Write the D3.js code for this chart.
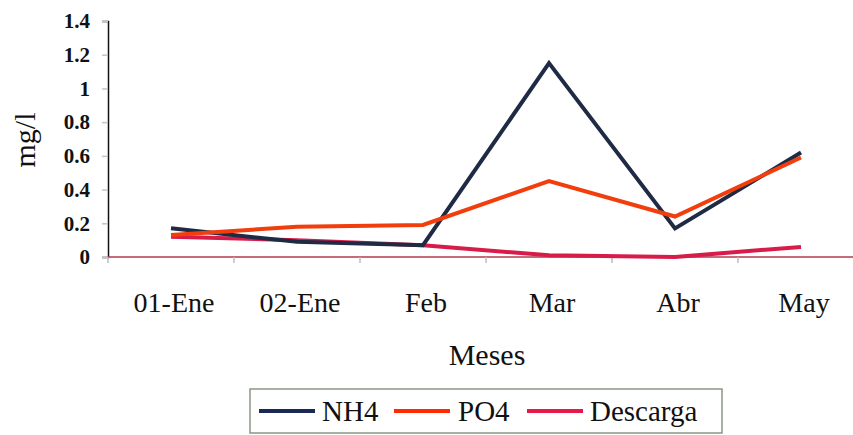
<!DOCTYPE html>
<html>
<head>
<meta charset="utf-8">
<script src="https://cdn.jsdelivr.net/npm/d3@7"></script>
<style>
  html, body { margin: 0; padding: 0; background: #fff; }
  svg { display: block; font-family: "Liberation Serif", "Times New Roman", serif; }
</style>
</head>
<body>
<svg id="chart" width="853" height="435"></svg>
<script>
// Monthly concentrations (mg/l)
const months = ["01-Ene", "02-Ene", "Feb", "Mar", "Abr", "May"];
const nh4 = [0.17, 0.09, 0.07, 1.15, 0.17, 0.62];
const po4 = [0.13, 0.18, 0.19, 0.45, 0.24, 0.59];
const descarga = [0.12, 0.10, 0.07, 0.01, 0.0, 0.06];
const yTicks = [0, 0.2, 0.4, 0.6, 0.8, 1, 1.2, 1.4];

const series = [
  { name: "NH4", values: nh4, color: "#1f2b45", legendColor: "#1a2a55" },
  { name: "PO4", values: po4, color: "#f23d0c", legendColor: "#ff2a00" },
  { name: "Descarga", values: descarga, color: "#d81c4a", legendColor: "#e8184a" }
];

const svg = d3.select("#chart");
const plot = { left: 108, top: 21, bottom: 257, right: 864 };

const x = d3.scaleBand().domain(months).range([plot.left, plot.right]).padding(0);
const y = d3.scaleLinear().domain([0, 1.4]).range([plot.bottom, plot.top]);

// Y axis
const yAxis = svg.append("g").attr("transform", `translate(${plot.left},0)`)
  .call(d3.axisLeft(y).tickValues(yTicks).tickSize(6).tickPadding(12)
    .tickFormat(d => String(+d.toFixed(1))));
yAxis.select(".domain").attr("stroke", "#111").attr("stroke-width", 1.5);
yAxis.selectAll(".tick line").attr("stroke", "#c4c4c4").attr("stroke-width", 1.5);
yAxis.selectAll(".tick text")
  .attr("font-family", "Liberation Serif, serif")
  .attr("font-size", 21).attr("font-weight", "bold").attr("fill", "#111");

// X axis with ticks at category boundaries
const xAxis = svg.append("g").attr("transform", `translate(0,${plot.bottom})`);
xAxis.append("line")
  .attr("x1", plot.left).attr("x2", plot.right).attr("y1", 0).attr("y2", 0)
  .attr("stroke", "#b23a4c").attr("stroke-width", 1.5);
xAxis.selectAll("line.bound").data(months).join("line")
  .attr("class", "bound")
  .attr("x1", d => x(d)).attr("x2", d => x(d))
  .attr("y1", 0).attr("y2", 6)
  .attr("stroke", "#bdbdbd").attr("stroke-width", 1.5);
xAxis.selectAll("text").data(months).join("text")
  .attr("x", d => x(d) + x.bandwidth() / 2 + 3)
  .attr("y", 55)
  .attr("text-anchor", "middle")
  .attr("font-size", 28).attr("fill", "#111")
  .text(d => d);

// Axis titles
svg.append("text")
  .attr("transform", "translate(35,140) rotate(-90)")
  .attr("text-anchor", "middle")
  .attr("font-size", 30).attr("fill", "#111")
  .text("mg/l");
svg.append("text")
  .attr("x", 487).attr("y", 365)
  .attr("text-anchor", "middle")
  .attr("font-size", 30).attr("fill", "#111")
  .text("Meses");

// Series lines
const line = d3.line()
  .x((d, i) => x(months[i]) + x.bandwidth() / 2)
  .y(d => y(d));
const drawOrder = [series[2], series[0], series[1]];
svg.append("g").selectAll("path").data(drawOrder).join("path")
  .attr("d", s => line(s.values))
  .attr("fill", "none")
  .attr("stroke", s => s.color)
  .attr("stroke-width", 4)
  .attr("stroke-linejoin", "miter");

// Legend
const legend = svg.append("g");
legend.append("rect")
  .attr("x", 250).attr("y", 389).attr("width", 472).attr("height", 44)
  .attr("fill", "#fff").attr("stroke", "#8c9682").attr("stroke-width", 1.5);
const legendPos = [
  { lx: 259, tx: 322 },
  { lx: 394, tx: 458 },
  { lx: 527, tx: 590 }
];
series.forEach((s, i) => {
  const p = legendPos[i];
  legend.append("line")
    .attr("x1", p.lx).attr("x2", p.lx + 56)
    .attr("y1", 411).attr("y2", 411)
    .attr("stroke", s.legendColor).attr("stroke-width", 4);
  legend.append("text")
    .attr("x", p.tx).attr("y", 421)
    .attr("font-size", 29).attr("fill", "#111")
    .text(s.name);
});
</script>
</body>
</html>
